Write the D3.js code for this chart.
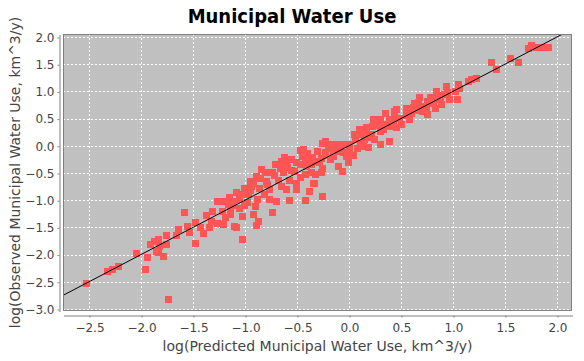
<!DOCTYPE html>
<html><head><meta charset="utf-8">
<script src="https://cdn.jsdelivr.net/npm/d3@7"></script>
<style>html,body{margin:0;padding:0;background:#fff;}</style>
</head><body>
<svg id="c" width="584" height="361"></svg>
<script>
const title = "Municipal Water Use";
const xLabel = "log(Predicted Municipal Water Use, km^3/y)";
const yLabel = "log(Observed Municipal Water Use, km^3/y)";
const xTicks = [-2.5,-2.0,-1.5,-1.0,-0.5,0.0,0.5,1.0,1.5,2.0];
const yTicks = [-3.0,-2.5,-2.0,-1.5,-1.0,-0.5,0.0,0.5,1.0,1.5,2.0];
const xDomain = [-2.75, 2.145];
const yDomain = [-3.037, 2.055];
// fitted 1:1 line endpoints (predicted = observed)
const fitLine = [[-3.2,-3.2],[2.3,2.3]];
// points: [predicted, observed]
const lowPoints = [[-2.52,-2.54],[-2.32,-2.32],[-2.27,-2.28],[-2.22,-2.21],[-2.04,-1.98],[-1.96,-2.27],[-1.94,-2.05],[-1.87,-1.76],[-1.83,-1.97],[-1.78,-2.03],[-1.74,-2.82],[-1.83,-1.73],[-1.85,-1.94],[-1.75,-1.64],[-1.75,-1.82],[-1.64,-1.54],[-1.66,-1.64],[-1.55,-1.48],[-1.53,-1.59],[-1.48,-1.41],[-1.48,-1.79],[-1.58,-1.22],[-1.40,-1.62],[-1.37,-1.29],[-1.32,-1.39],[-1.26,-1.02],[-1.26,-1.42],[-1.21,-1.45],[-1.22,-1.21],[-1.16,-1.08],[-1.14,-1.27],[-1.08,-1.51],[-1.02,-1.73],[-1.03,-0.90],[-1.05,-1.15],[-0.98,-1.05],[-1.02,-1.30],[-1.82,-1.86],[-1.91,-1.82],[-1.43,-1.51],[-1.31,-1.21],[-1.19,-1.32],[-1.34,-1.51],[-1.15,-0.95],[-1.08,-0.85],[-1.00,-0.78],[-0.95,-0.82],[-0.92,-0.70],[-1.12,-1.10],[-1.00,-1.10]];
const midLowPoints = [[-0.47,-0.09],[-0.25,0.05],[-0.23,-0.17],[-0.65,-0.29],[-0.55,-0.26],[-0.47,-0.35],[-0.74,-0.50],[-0.63,-0.50],[-0.89,-0.56],[-0.95,-0.66],[-0.79,-0.66],[-0.94,-0.75],[-0.86,-0.78],[-0.76,-0.81],[-0.65,-0.75],[-0.60,-0.81],[-0.50,-0.69],[-0.50,-0.81],[-0.34,-0.69],[-0.38,-0.84],[-0.42,-0.53],[-0.26,-0.50],[-0.25,-0.93],[-0.76,-0.99],[-0.70,-1.02],[-0.57,-1.01],[-0.42,-1.01],[-0.74,-1.22],[-1.11,-1.02],[-1.14,-1.18],[-0.92,-1.27],[-0.87,-1.39],[-1.21,-1.02],[-1.10,-1.49],[-0.89,-1.47],[-0.84,-0.44],[-0.71,-0.35],[-0.59,-0.40],[-0.68,-0.63],[-0.81,-0.90],[-0.88,-0.99],[-0.57,-0.63],[-0.47,-0.59],[-0.36,-0.35],[-0.32,-0.53],[-0.97,-0.90],[-0.90,-1.12],[-1.05,-0.99],[-0.62,-0.22],[-0.52,-0.48],[-0.78,-0.72],[-0.85,-0.60],[-0.80,-0.50],[-0.72,-0.55],[-0.66,-0.42],[-0.60,-0.33],[-0.55,-0.45],[-0.50,-0.30],[-0.45,-0.20],[-0.40,-0.15],[-0.35,-0.22],[-0.30,-0.10],[-0.28,-0.30],[-0.20,-0.05],[-0.15,-0.20],[-0.08,-0.02],[-0.05,-0.12]];
const midPoints = [[0.55,0.69],[0.46,0.66],[0.35,0.59],[0.39,0.48],[0.46,0.33],[0.24,0.48],[0.17,0.33],[0.23,0.35],[0.30,0.26],[0.22,0.20],[0.25,0.11],[0.30,0.02],[0.39,0.07],[0.19,-0.04],[0.06,0.11],[0.11,0.05],[0.01,0.02],[-0.05,0.02],[-0.12,0.02],[-0.18,0.02],[-0.23,0.07],[0.01,-0.10],[0.04,-0.17],[-0.02,-0.20],[0.00,-0.31],[-0.09,-0.10],[-0.15,-0.10],[-0.23,-0.13],[-0.26,-0.23],[-0.18,-0.26],[-0.25,-0.42],[-0.33,-0.29],[-0.42,-0.26],[-0.44,-0.07],[-0.41,-0.38],[-0.36,-0.50],[-0.10,-0.38],[-0.06,-0.48],[-0.33,-0.69],[0.44,0.63],[0.11,0.20],[0.15,0.11],[0.35,0.39],[0.30,0.48],[0.05,0.20],[0.10,0.30],[0.15,0.25],[0.20,0.15],[0.28,0.38],[0.33,0.30],[0.40,0.35],[0.08,-0.05],[0.14,-0.02]];
const highPoints = [[1.37,1.54],[1.42,1.40],[1.23,1.24],[1.18,1.21],[1.15,1.18],[1.05,1.13],[1.06,1.06],[0.94,1.09],[1.02,1.00],[0.84,0.99],[0.92,0.94],[0.88,0.86],[0.97,0.85],[1.04,0.86],[0.78,0.89],[0.76,0.81],[0.68,0.88],[0.67,0.80],[0.81,0.78],[0.89,0.75],[0.83,0.68],[0.75,0.69],[0.71,0.63],[0.76,0.57],[0.65,0.64],[0.63,0.78],[0.44,0.54],[0.49,0.51],[0.43,0.42],[0.51,0.40],[1.76,1.84],[1.73,1.78],[1.80,1.80],[1.87,1.80],[1.92,1.81],[1.55,1.61],[1.63,1.54],[0.55,0.55],[0.60,0.60],[0.58,0.48],[0.70,0.72],[0.80,0.85],[0.85,0.92],[0.95,0.98],[0.62,0.70]];
const points = lowPoints.concat(midLowPoints, midPoints, highPoints);

const P = {l:63, r:572, t:34, b:311};
const svg = d3.select("#c");
const x = d3.scaleLinear().domain(xDomain).range([P.l, P.r]);
const y = d3.scaleLinear().domain(yDomain).range([P.b, P.t]);
const fmt = d3.format(".1f");

svg.append("text").attr("x", 292).attr("y", 23).attr("text-anchor","middle")
  .attr("font-family","'DejaVu Sans Condensed', 'DejaVu Sans', sans-serif").attr("font-stretch","condensed")
  .attr("font-weight","bold").attr("font-size",20).attr("fill","#000").text(title);

svg.append("rect").attr("x",P.l).attr("y",P.t).attr("width",P.r-P.l).attr("height",P.b-P.t).attr("fill","#c0c0c0");

const grid = svg.append("g");
grid.selectAll("line.gx").data(xTicks).join("line")
  .attr("x1",d=>Math.round(x(d))+0.5).attr("x2",d=>Math.round(x(d))+0.5)
  .attr("y1",P.t).attr("y2",P.b).attr("stroke","#fff").attr("stroke-dasharray","2,2");
grid.selectAll("line.gy").data(yTicks).join("line")
  .attr("y1",d=>Math.round(y(d))+0.5).attr("y2",d=>Math.round(y(d))+0.5)
  .attr("x1",P.l).attr("x2",P.r).attr("stroke","#fff").attr("stroke-dasharray","2,2");

const clip = svg.append("clipPath").attr("id","pc").append("rect")
  .attr("x",P.l).attr("y",P.t).attr("width",P.r-P.l).attr("height",P.b-P.t);
const plot = svg.append("g").attr("clip-path","url(#pc)");
const s = 7;
plot.selectAll("rect.pt").data(points).join("rect")
  .attr("x",d=>Math.round(x(d[0])-s/2)).attr("y",d=>Math.round(y(d[1])-s/2))
  .attr("width",s).attr("height",s).attr("fill","#ff5555");
plot.append("path").datum(fitLine).attr("d", d3.line().x(d=>x(d[0])).y(d=>y(d[1])))
  .attr("stroke","#000").attr("stroke-width",1).attr("fill","none");

svg.append("rect").attr("x",P.l+0.5).attr("y",P.t+0.5).attr("width",P.r-P.l-1).attr("height",P.b-P.t-1)
  .attr("fill","none").attr("stroke","#808080");

const xa = svg.append("g").attr("transform",`translate(0.5,${P.b+4.5})`)
  .call(d3.axisBottom(x).tickValues(xTicks).tickFormat(fmt).tickSize(2).tickSizeOuter(0).tickPadding(6));
const ya = svg.append("g").attr("transform",`translate(${P.l-3.5},0.5)`)
  .call(d3.axisLeft(y).tickValues(yTicks).tickFormat(fmt).tickSize(2).tickSizeOuter(0).tickPadding(3));
[xa,ya].forEach(a=>{
  a.select(".domain").attr("stroke","#808080");
  a.selectAll(".tick line").attr("stroke","#808080");
  a.selectAll(".tick text").attr("fill","#444").attr("font-family","'DejaVu Sans', sans-serif").attr("font-size",12);
});

svg.append("text").attr("x",(P.l+P.r)/2).attr("y",351).attr("text-anchor","middle")
  .attr("font-family","'DejaVu Sans', sans-serif").attr("font-size",14).attr("fill","#444").text(xLabel);
svg.append("text").attr("transform",`translate(20,${(P.t+P.b)/2}) rotate(-90)`).attr("text-anchor","middle")
  .attr("font-family","'DejaVu Sans', sans-serif").attr("font-size",14).attr("fill","#444").text(yLabel);
</script>
</body></html>
